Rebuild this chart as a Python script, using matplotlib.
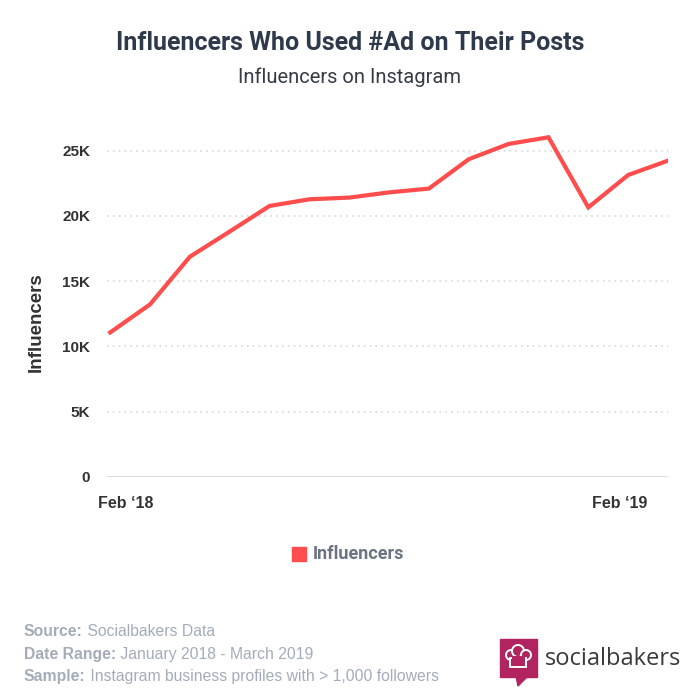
import numpy as np
import matplotlib
matplotlib.use("Agg")
import matplotlib.pyplot as plt
from matplotlib.patches import Rectangle, Polygon, Circle

# Monthly counts, Jan 2018 - Mar 2019
months = ["Jan 18", "Feb 18", "Mar 18", "Apr 18", "May 18", "Jun 18", "Jul 18",
          "Aug 18", "Sep 18", "Oct 18", "Nov 18", "Dec 18", "Jan 19", "Feb 19", "Mar 19"]
influencers = [11070, 13220, 16870, 18800, 20760, 21270, 21400, 21800,
               22090, 24340, 25510, 26020, 20650, 23130, 24230]
y_ticks = [0, 5000, 10000, 15000, 20000, 25000]
y_tick_labels = ["0", "5K", "10K", "15K", "20K", "25K"]
x_tick_pos = [0.4, 12.8]
x_tick_labels = ["Feb \u201818", "Feb \u201819"]

RED = "#ff4c4c"
DARK = "#2e3a4b"
GREY = "#a4acb9"

W = H = 700


def fx(px):
    return px / W


def fy(py):
    return 1 - py / H


def main():
    fig = plt.figure(figsize=(7, 7), dpi=100)
    ax = fig.add_axes([fx(107), fy(477), fx(668) - fx(107), fy(131) - fy(477)])

    x = np.arange(len(months))
    ax.plot(x, influencers, color=RED, linewidth=3.0, solid_joinstyle="miter", zorder=3)

    ax.set_xlim(-0.08, len(months) - 1)
    ax.set_ylim(0, 26500)

    # dotted grid lines, solid baseline
    for t in y_ticks[1:]:
        ax.axhline(t, color="#d5d8dc", linewidth=1.2, linestyle=(0, (1, 2.5)), zorder=1)
    ax.axhline(0, color="#d3d9e0", linewidth=2, zorder=2)

    for s in ax.spines.values():
        s.set_visible(False)
    ax.set_yticks(y_ticks)
    ax.set_yticklabels(y_tick_labels, fontsize=11, fontweight="bold",
                       color="#333333", family="Liberation Sans")
    ax.set_xticks(x_tick_pos)
    ax.set_xticklabels(x_tick_labels, fontsize=11.5, fontweight="bold",
                       color="#333333", family="Liberation Sans")
    ax.tick_params(axis="y", length=0, pad=12)
    ax.tick_params(axis="x", length=0, pad=14)

    fig.text(fx(36), fy(322), "Influencers", rotation=90, ha="center", va="center",
             fontsize=13.5, fontweight="bold", color="#333333", family="Liberation Sans")

    # titles
    fig.text(0.5, fy(43), "Influencers Who Used #Ad on Their Posts", ha="center",
             va="center", fontsize=18, fontweight="bold", color=DARK, family="Roboto")
    fig.text(0.5, fy(77), "Influencers on Instagram", ha="center", va="center",
             fontsize=14.5, color="#363c46", family="Roboto")

    # legend
    fig.patches.append(Rectangle((fx(292), fy(561)), fx(14), fx(14),
                                 transform=fig.transFigure, color=RED))
    fig.text(fx(313), fy(554), "Influencers", ha="left", va="center", fontsize=13,
             fontweight="bold", color="#6b7482", family="Roboto")

    # footer with bold keys
    renderer = fig.canvas.get_renderer()
    footer = [("Source:", " Socialbakers Data", 632),
              ("Date Range:", " January 2018 - March 2019", 654),
              ("Sample:", " Instagram business profiles with > 1,000 followers", 676)]
    for key, val, py in footer:
        t = fig.text(fx(24), fy(py), key, ha="left", va="center", fontsize=11.3,
                     fontweight="bold", color=GREY, family="Liberation Sans")
        bb = t.get_window_extent(renderer)
        fig.text(bb.x1 / W, fy(py), val, ha="left", va="center", fontsize=11.3,
                 color=GREY, family="Liberation Sans")

    # socialbakers logo
    mag = "#b2245f"
    fig.patches.append(Rectangle((fx(500), fy(677)), fx(37), fx(38),
                                 transform=fig.transFigure, color=mag))
    fig.patches.append(Polygon([(fx(516), fy(676)), (fx(528), fy(676)), (fx(518), fy(686))],
                               closed=True, transform=fig.transFigure, color=mag))
    for cx, cy, r in [(511, 655, 5), (518, 651, 6), (526, 655, 5)]:
        fig.patches.append(Circle((fx(cx), fy(cy)), fx(r), transform=fig.transFigure,
                                  facecolor=mag, edgecolor="white", linewidth=1.4))
    fig.patches.append(Rectangle((fx(510), fy(667)), fx(16), fx(9),
                                 transform=fig.transFigure, facecolor=mag,
                                 edgecolor="white", linewidth=1.4))
    fig.patches.append(Rectangle((fx(511.5), fy(662)), fx(13), fx(6),
                                 transform=fig.transFigure, facecolor=mag,
                                 edgecolor="none"))
    fig.text(fx(545), fy(659), "socialbakers", ha="left", va="center", fontsize=17,
             color="#3a3a3a", family="Open Sans")

    fig.savefig("out.png", dpi=100, facecolor="white")


if __name__ == "__main__":
    main()
